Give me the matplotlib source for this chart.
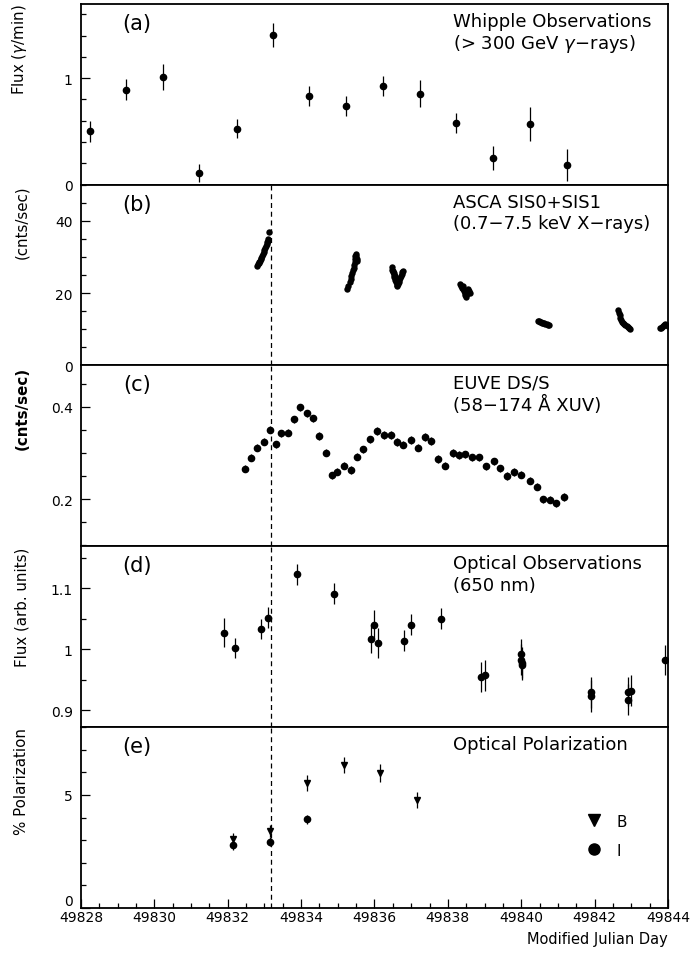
import matplotlib
matplotlib.use('Agg')
import matplotlib.pyplot as plt
from matplotlib.ticker import MultipleLocator, FuncFormatter
from matplotlib.lines import Line2D

# (a) Whipple >300 GeV gamma-ray flux
whip_mjd = [49828.24, 49829.23, 49830.24, 49831.22, 49832.24, 49833.23, 49834.22,
            49835.22, 49836.22, 49837.23, 49838.23, 49839.24, 49840.24, 49841.26]
whip_flux = [0.50, 0.89, 1.01, 0.11, 0.525, 1.405, 0.83, 0.735, 0.925, 0.855,
             0.575, 0.25, 0.57, 0.18]
whip_err = [0.10, 0.10, 0.12, 0.085, 0.09, 0.11, 0.095, 0.095, 0.095, 0.125,
            0.095, 0.11, 0.16, 0.15]

# (b) ASCA SIS0+SIS1 count rate, one list per pointing
asca_mjd_1 = [49832.80, 49832.82, 49832.84, 49832.86, 49832.88, 49832.90, 49832.92,
              49832.94, 49832.96, 49832.98, 49833.00, 49833.02, 49833.04, 49833.06,
              49833.08, 49833.10, 49833.11, 49833.12]
asca_rate_1 = [27.5, 27.9, 28.2, 28.6, 28.9, 29.3, 29.8, 30.3, 30.8, 31.3, 31.9,
               32.4, 33.0, 33.5, 34.0, 34.4, 34.9, 36.9]
asca_mjd_2 = [49835.26, 49835.29, 49835.32, 49835.35, 49835.37, 49835.39, 49835.41,
              49835.43, 49835.45, 49835.46, 49835.47, 49835.48, 49835.49, 49835.50,
              49835.51, 49835.52]
asca_rate_2 = [21.0, 22.0, 23.0, 24.0, 24.8, 25.5, 26.3, 27.0, 27.8, 28.6, 29.4,
               30.2, 30.8, 30.3, 29.5, 28.8]
asca_mjd_3 = [49836.47, 49836.48, 49836.50, 49836.50, 49836.52, 49836.53, 49836.54,
              49836.56, 49836.56, 49836.58, 49836.60, 49836.62, 49836.64, 49836.66,
              49836.68, 49836.70, 49836.72, 49836.74, 49836.76, 49836.78]
asca_rate_3 = [27.2, 26.5, 25.8, 26.2, 25.0, 25.5, 24.3, 23.6, 24.6, 23.0, 22.3,
               22.0, 22.5, 23.0, 23.6, 24.2, 24.8, 25.3, 25.8, 26.1]
asca_mjd_4 = [49838.33, 49838.36, 49838.38, 49838.40, 49838.42, 49838.44, 49838.46,
              49838.48, 49838.50, 49838.52, 49838.54, 49838.56, 49838.58, 49838.60]
asca_rate_4 = [22.6, 22.0, 21.4, 21.9, 21.2, 20.6, 20.0, 19.4, 19.0, 19.6, 20.4,
               21.1, 20.6, 20.0]
asca_mjd_5 = [49840.45, 49840.48, 49840.51, 49840.54, 49840.57, 49840.60, 49840.63,
              49840.66, 49840.69, 49840.72, 49840.75]
asca_rate_5 = [12.4, 12.2, 12.0, 11.9, 11.8, 11.7, 11.6, 11.5, 11.4, 11.3, 11.2]
asca_mjd_6 = [49842.64, 49842.66, 49842.68, 49842.70, 49842.72, 49842.75, 49842.78,
              49842.81, 49842.84, 49842.87, 49842.90, 49842.93, 49842.96]
asca_rate_6 = [15.2, 14.5, 13.8, 13.2, 12.6, 12.1, 11.7, 11.4, 11.1, 10.8, 10.5,
               10.3, 10.1]
asca_mjd_7 = [49843.78, 49843.81, 49843.84, 49843.87, 49843.90, 49843.93, 49843.96,
              49843.99]
asca_rate_7 = [10.2, 10.4, 10.6, 10.9, 11.2, 11.5, 11.2, 10.9]

# (c) EUVE DS/S count rate
euve_mjd = [49832.48, 49832.64, 49832.81, 49832.98, 49833.15, 49833.32, 49833.46,
            49833.63, 49833.80, 49833.97, 49834.15, 49834.32, 49834.50, 49834.67,
            49834.84, 49834.99, 49835.18, 49835.35, 49835.52, 49835.69, 49835.88,
            49836.06, 49836.27, 49836.44, 49836.60, 49836.78, 49837.00, 49837.19,
            49837.37, 49837.54, 49837.72, 49837.93, 49838.13, 49838.31, 49838.48,
            49838.65, 49838.84, 49839.03, 49839.25, 49839.43, 49839.61, 49839.79,
            49840.00, 49840.24, 49840.42, 49840.60, 49840.78, 49840.96, 49841.16]
euve_rate = [0.266, 0.290, 0.312, 0.325, 0.351, 0.319, 0.343, 0.344, 0.373, 0.399,
             0.386, 0.375, 0.337, 0.301, 0.252, 0.260, 0.273, 0.263, 0.292, 0.308,
             0.330, 0.348, 0.339, 0.339, 0.324, 0.318, 0.328, 0.312, 0.335, 0.326,
             0.287, 0.273, 0.300, 0.296, 0.297, 0.291, 0.291, 0.271, 0.282, 0.267,
             0.250, 0.259, 0.253, 0.240, 0.227, 0.200, 0.199, 0.191, 0.205]
euve_err = 0.008

# (d) optical flux at 650 nm
opt_mjd = [49831.90, 49832.20, 49832.90, 49833.10, 49833.90, 49834.90, 49835.91,
           49836.00, 49836.10, 49836.80, 49837.00, 49837.81, 49838.89, 49839.01,
           49840.00, 49840.00, 49840.01, 49840.01, 49841.90, 49841.90, 49842.90,
           49842.90, 49842.99, 49843.91]
opt_flux = [1.027, 1.002, 1.033, 1.052, 1.123, 1.091, 1.016, 1.040, 1.010, 1.014,
            1.040, 1.050, 0.954, 0.957, 0.992, 0.983, 0.978, 0.974, 0.929, 0.923,
            0.930, 0.917, 0.932, 0.982]
opt_err = [0.024, 0.017, 0.017, 0.017, 0.017, 0.017, 0.023, 0.024, 0.024, 0.017,
           0.017, 0.017, 0.025, 0.025, 0.025, 0.025, 0.025, 0.025, 0.026, 0.026,
           0.024, 0.025, 0.025, 0.025]

# (e) optical polarization, B and I band
polB_mjd = [49832.15, 49833.15, 49834.15, 49835.16, 49836.16, 49837.16]
polB = [3.06, 3.40, 5.52, 6.33, 5.99, 4.78]
polB_err = [0.25, 0.25, 0.35, 0.35, 0.40, 0.35]
polI_mjd = [49832.15, 49833.15, 49834.15]
polI = [2.78, 2.93, 3.93]
polI_err = [0.20, 0.20, 0.20]

flare_mjd = 49833.19

fig, axes = plt.subplots(5, 1, sharex=True, figsize=(6.91, 9.54), dpi=100,
                         gridspec_kw=dict(hspace=0))
fig.subplots_adjust(left=0.1172, right=0.9667, top=0.9951, bottom=0.0472)

eb = dict(fmt='o', color='k', ms=4.5, elinewidth=0.9, capsize=0)

ax = axes[0]
ax.errorbar(whip_mjd, whip_flux, yerr=whip_err, **eb)
ax.set_ylim(0, 1.7)
ax.yaxis.set_major_locator(MultipleLocator(1))
ax.yaxis.set_minor_locator(MultipleLocator(0.2))

ax = axes[1]
for xs, ys in [(asca_mjd_1, asca_rate_1), (asca_mjd_2, asca_rate_2),
               (asca_mjd_3, asca_rate_3), (asca_mjd_4, asca_rate_4),
               (asca_mjd_5, asca_rate_5), (asca_mjd_6, asca_rate_6),
               (asca_mjd_7, asca_rate_7)]:
    ax.plot(xs, ys, 'o', color='k', ms=4.6, mew=0)
ax.set_ylim(0, 50)
ax.yaxis.set_major_locator(MultipleLocator(20))
ax.yaxis.set_minor_locator(MultipleLocator(5))

ax = axes[2]
ax.errorbar(euve_mjd, euve_rate, yerr=euve_err, **eb)
ax.set_ylim(0.098, 0.49)
ax.yaxis.set_major_locator(MultipleLocator(0.2))
ax.yaxis.set_minor_locator(MultipleLocator(0.05))

ax = axes[3]
ax.errorbar(opt_mjd, opt_flux, yerr=opt_err, **eb)
ax.set_ylim(0.872, 1.169)
ax.yaxis.set_major_locator(MultipleLocator(0.1))
ax.yaxis.set_minor_locator(MultipleLocator(0.05))

ax = axes[4]
ax.errorbar(polB_mjd, polB, yerr=polB_err, fmt='v', color='k', ms=5,
            elinewidth=0.9, capsize=0)
ax.errorbar(polI_mjd, polI, yerr=polI_err, **eb)
ax.set_ylim(0, 8)
ax.yaxis.set_major_locator(MultipleLocator(5))
ax.yaxis.set_minor_locator(MultipleLocator(1))
hB = Line2D([], [], ls='none', marker='v', color='k', ms=8)
hI = Line2D([], [], ls='none', marker='o', color='k', ms=8)
ax.legend([hB, hI], ['B', 'I'], loc='center left', bbox_to_anchor=(0.835, 0.40),
          frameon=False, handlelength=1.2, handletextpad=0.9, labelspacing=0.9,
          fontsize=11)

ax.set_xlim(49828, 49844)
ax.xaxis.set_major_locator(MultipleLocator(2))
ax.xaxis.set_minor_locator(MultipleLocator(0.5))
ax.xaxis.set_major_formatter(FuncFormatter(lambda v, p: '%d' % v))
ax.set_xlabel('Modified Julian Day', loc='right', fontsize=10.5, labelpad=5)

tags = ['(a)', '(b)', '(c)', '(d)', '(e)']
titles = [('Whipple Observations', '(> 300 GeV $\\gamma$\u2212rays)'),
          ('ASCA SIS0+SIS1', '(0.7\u22127.5 keV X\u2212rays)'),
          ('EUVE DS/S', '(58\u2212174 \u00c5 XUV)'),
          ('Optical Observations', '(650 nm)'),
          ('Optical Polarization', None)]
ylabels = ['Flux ($\\gamma$/min)', '(cnts/sec)', '(cnts/sec)',
           'Flux (arb. units)', '% Polarization']

def ylab(v, p):
    return '%g' % round(v, 3)

def ylab_e(v, p):
    # the bottom zero is drawn separately, lifted above the date labels
    return '' if v == 0 else '%g' % v

for i, ax in enumerate(axes):
    ax.tick_params(which='both', direction='in', left=True, right=False,
                   top=False, bottom=(i == 4), labelsize=10, width=0.9)
    ax.tick_params(axis='y', which='major', length=6.5, pad=6)
    ax.tick_params(axis='y', which='minor', length=3.5)
    ax.tick_params(axis='x', which='major', length=6.5, pad=1.5)
    ax.tick_params(axis='x', which='minor', length=3.5)
    ax.yaxis.set_major_formatter(FuncFormatter(ylab_e if i == 4 else ylab))
    for s in ax.spines.values():
        s.set_linewidth(1.3)
    ax.text(0.095, 0.895, tags[i], transform=ax.transAxes, ha='center',
            va='center', fontsize=15)
    t1, t2 = titles[i]
    ax.text(0.634, 0.905, t1, transform=ax.transAxes, ha='left', va='center',
            fontsize=13)
    if t2:
        ax.text(0.634, 0.785, t2, transform=ax.transAxes, ha='left',
                va='center', fontsize=13)
    ax.set_ylabel(ylabels[i], loc='top', fontsize=10.8,
                  fontweight='bold' if i == 2 else 'normal')
    ax.yaxis.set_label_coords(-0.088, 1.0)
    if i > 0:
        ax.axvline(flare_mjd, color='k', lw=0.9, ls=(0, (4, 3)))

axes[4].text(-0.0142, 0, '0', transform=axes[4].get_yaxis_transform(),
             ha='right', va='bottom', fontsize=10)

fig.savefig('out.png', dpi=100)
